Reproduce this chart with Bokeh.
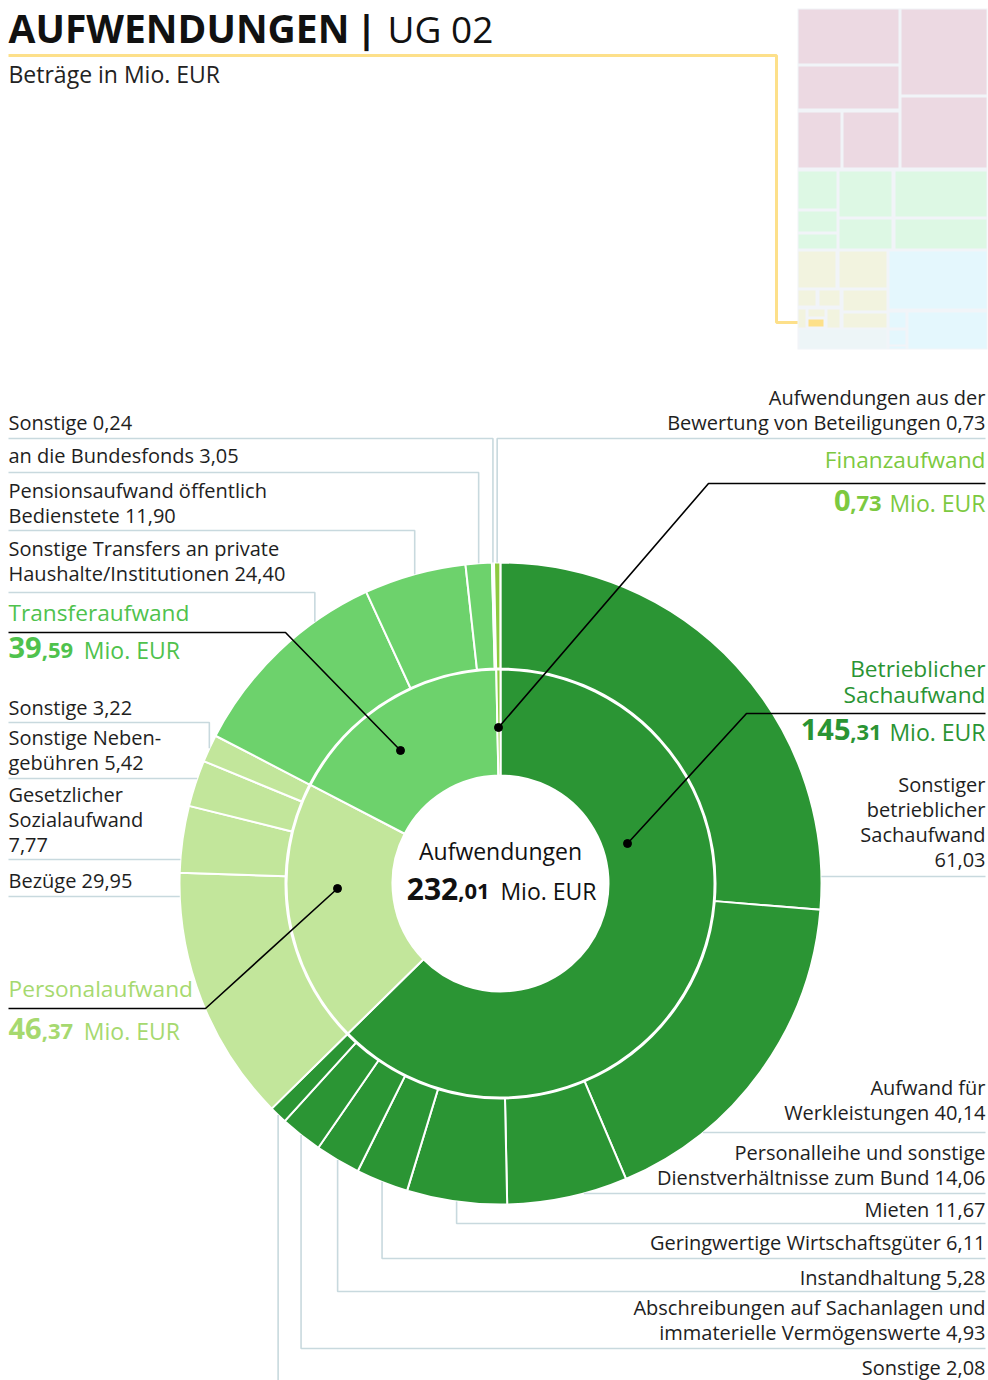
import math
from bokeh.plotting import figure
from bokeh.models import Range1d, ColumnDataSource
from bokeh.embed import file_html
from bokeh.resources import INLINE
from bokeh.core.properties import value

# ------------------------------------------------------------------ data
title_bold = "AUFWENDUNGEN"
title_rest = "UG 02"
subtitle = "Beträge in Mio. EUR"
center_label = "Aufwendungen"
total_value = 232.01
unit = "Mio. EUR"

categories = ["Betrieblicher|Sachaufwand", "Personalaufwand", "Transferaufwand", "Finanzaufwand"]
category_values = [145.31, 46.37, 39.59, 0.73]
category_colors = ["#2b9534", "#c2e69b", "#6dd26c", "#8dca3f"]
category_text_colors = ["#2a9433", "#a6d96f", "#4fc24d", "#7cc940"]

sub_parent = [0, 0, 0, 0, 0, 0, 0, 0, 1, 1, 1, 1, 2, 2, 2, 2, 3]
sub_names = [
    "Sonstiger|betrieblicher|Sachaufwand|",
    "Aufwand für|Werkleistungen",
    "Personalleihe und sonstige|Dienstverhältnisse zum Bund",
    "Mieten",
    "Geringwertige Wirtschaftsgüter",
    "Instandhaltung",
    "Abschreibungen auf Sachanlagen und|immaterielle Vermögenswerte",
    "Sonstige",
    "Bezüge",
    "Gesetzlicher|Sozialaufwand|",
    "Sonstige Neben-|gebühren",
    "Sonstige",
    "Sonstige Transfers an private|Haushalte/Institutionen",
    "Pensionsaufwand öffentlich|Bedienstete",
    "an die Bundesfonds",
    "Sonstige",
    "Aufwendungen aus der|Bewertung von Beteiligungen",
]
sub_values = [61.03, 40.14, 14.06, 11.67, 6.11, 5.28, 4.93, 2.08,
              29.95, 7.77, 5.42, 3.22,
              24.40, 11.90, 3.05, 0.24,
              0.73]

# mini treemap (overview of all UGs), image coords: left, right, top, bottom
tm_left = [798, 901, 798, 798, 843, 901,
           798, 839, 895, 798, 798, 839, 895,
           798, 839, 798, 819, 843, 798, 808, 827, 843,
           889, 889, 908, 889, 889, 799]
tm_right = [898, 986, 898, 840, 898, 986,
            836, 891, 986, 836, 836, 891, 986,
            835, 886, 815, 839, 886, 805, 824, 839, 886,
            986, 905, 986, 905, 905, 886]
tm_top = [9, 9, 66, 112, 112, 97,
          171, 171, 171, 211, 234, 219, 219,
          251, 251, 290, 290, 290, 309, 309, 309, 313,
          251, 312, 312, 330, 346, 329]
tm_bottom = [63, 94, 108, 167, 167, 167,
             208, 216, 216, 231, 248, 248, 248,
             287, 287, 305, 305, 310, 327, 316, 327, 327,
             308, 327, 348, 344, 348, 348]
tm_group = ["a"] * 6 + ["b"] * 7 + ["c"] * 9 + ["d"] * 5 + ["e"]
tm_group_colors = {"a": "#ecd9e2", "b": "#ddf8e4", "c": "#f2f3df", "d": "#e4f7fd", "e": "#edf5f7"}
tm_highlight = [808, 823, 319, 326]

# ------------------------------------------------------------------ layout
W, H = 988, 1380
CX, CY = 500, 883
R_HOLE, R_MID, R_OUT = 108, 214, 321
FONT = "Open Sans"
BASE_SHIFT = 0.4   # glyph text is drawn centred on y -> lift by this share of the size


def Y(y_img):
    return H - y_img


def fmt(v):
    return f"{v:.2f}".replace(".", ",")


p = figure(width=W, height=H, x_range=Range1d(0, W), y_range=Range1d(0, H),
           output_backend="svg", toolbar_location=None, min_border=0)
p.axis.visible = False
p.grid.visible = False
p.outline_line_color = None
p.background_fill_color = "white"
p.border_fill_color = "white"


def add_text(xs, ys, texts, size, color, align="left", bold=False):
    src = ColumnDataSource(dict(x=list(xs), y=[Y(v - BASE_SHIFT * size) for v in ys], text=list(texts)))
    p.text(x="x", y="y", text="text", source=src, text_font=value(FONT),
           text_font_size=value(f"{size}px"), text_color=color, text_align=align,
           text_baseline="alphabetic", text_font_style="bold" if bold else "normal")


# ---- title
add_text([8], [43], [title_bold], 39, "#111111", bold=True)
add_text([366], [43], ["|"], 38, "#111111", align="center", bold=True)
add_text([387], [43], [title_rest], 37, "#111111")
add_text([8], [83], [subtitle], 23, "#222222")
p.line(x=[8, 776, 776, 808], y=[Y(55), Y(55), Y(322), Y(322)], line_color="#fde08a", line_width=3)

# ---- mini treemap
p.quad(left=[797], right=[987], top=[Y(8)], bottom=[Y(349)], fill_color="#f1f4f8", line_color=None)
tm_src = ColumnDataSource(dict(left=tm_left, right=tm_right, top=[Y(v) for v in tm_top],
                               bottom=[Y(v) for v in tm_bottom],
                               color=[tm_group_colors[g] for g in tm_group]))
p.quad(left="left", right="right", top="top", bottom="bottom", source=tm_src,
       fill_color="color", line_color=None)
p.quad(left=[tm_highlight[0]], right=[tm_highlight[1]], top=[Y(tm_highlight[2])],
       bottom=[Y(tm_highlight[3])], fill_color="#fde08a", line_color=None)

# ---- angles (clockwise from top, degrees)
tot = sum(category_values)
cat_a1, cat_a2 = [], []
acc = 0.0
for v in category_values:
    cat_a1.append(acc / tot * 360)
    acc += v
    cat_a2.append(acc / tot * 360)

sub_a1, sub_a2 = [], []
acc = 0.0
for v in sub_values:
    sub_a1.append(acc / tot * 360)
    acc += v
    sub_a2.append(acc / tot * 360)


def to_rad(cw_deg):
    return math.radians(90 - cw_deg)


inner = ColumnDataSource(dict(x=[CX] * 4, y=[Y(CY)] * 4,
                              start=[to_rad(b) for b in cat_a2], end=[to_rad(a) for a in cat_a1],
                              color=category_colors))
p.annular_wedge(x="x", y="y", inner_radius=R_HOLE, outer_radius=R_MID, start_angle="start",
                end_angle="end", source=inner, fill_color="color", line_color="white", line_width=2)
outer = ColumnDataSource(dict(x=[CX] * len(sub_values), y=[Y(CY)] * len(sub_values),
                              start=[to_rad(b) for b in sub_a2], end=[to_rad(a) for a in sub_a1],
                              color=[category_colors[i] for i in sub_parent]))
p.annular_wedge(x="x", y="y", inner_radius=R_MID + 1, outer_radius=R_OUT, start_angle="start",
                end_angle="end", source=outer, fill_color="color", line_color="white", line_width=2)

# ---- sub labels & leader lines
sub_side = ["R"] * 8 + ["L"] * 8 + ["R"]
sub_underline = [876, 1132, 1193, 1223, 1258, 1291, 1348, 1386,
                 896, 859, 778, 722, 592, 530, 472, 438,
                 438]
sub_baseline = [867, 1120, 1185, 1217, 1250, 1285, 1340, 1375,
                888, 852, 770, 715, 581, 523, 463, 430,
                430]
sub_anchor = [None] * 17
sub_anchor[12] = 0.72
LINE_SP = 25
SUB_SIZE = 20

lx, ly = [], []
for i, v in enumerate(sub_values):
    side = sub_side[i]
    uy = sub_underline[i]
    xend = 8 if side == "L" else 985
    a1, a2 = sub_a1[i], sub_a2[i]
    done = False
    dy = uy - CY
    if sub_anchor[i] is None and abs(dy) < R_OUT:
        dx = math.sqrt(R_OUT ** 2 - dy ** 2)
        xe = CX + dx if side == "R" else CX - dx
        th = math.degrees(math.atan2(xe - CX, -(uy - CY))) % 360
        if a1 <= th <= a2:
            lx.append([xe, xend])
            ly.append([Y(uy), Y(uy)])
            done = True
    if not done:
        f = 0.5 if sub_anchor[i] is None else sub_anchor[i]
        th = math.radians(a1 + f * (a2 - a1))
        xa = CX + R_OUT * math.sin(th)
        ya = CY - R_OUT * math.cos(th)
        lx.append([xa, xa, xend])
        ly.append([Y(ya), Y(uy), Y(uy)])
    lines = sub_names[i].split("|")
    if lines[-1] == "":
        lines[-1] = fmt(v)
    else:
        lines[-1] = lines[-1] + " " + fmt(v)
    n = len(lines)
    ys = [sub_baseline[i] - (n - 1 - k) * LINE_SP for k in range(n)]
    add_text([xend] * n, ys, lines, SUB_SIZE, "#1e1e1e", align="left" if side == "L" else "right")

p.multi_line(xs=lx, ys=ly, line_color="#c8d9de", line_width=1.6)

# ---- category labels and black leaders
cat_leader = [
    [(985, 713), (746, 713), (627, 843)],
    [(8, 1008), (205, 1008), (337, 888)],
    [(8, 632), (285, 632), (400, 750)],
    [(985, 483), (708, 483), (498, 727)],
]
cat_side = ["R", "L", "L", "R"]
cat_name_baseline = [703, 997, 621, 468]
cat_value_baseline = [741, 1040, 659, 512]

p.multi_line(xs=[[pt[0] for pt in L] for L in cat_leader],
             ys=[[Y(pt[1]) for pt in L] for L in cat_leader], line_color="black", line_width=1.6)
p.scatter(x=[L[-1][0] for L in cat_leader], y=[Y(L[-1][1]) for L in cat_leader],
          size=8, color="black")

BIG, DEC, UNIT_S = 29, 22, 23
DIGIT_W, COMMA_W, UNIT_W = 0.572, 0.274, 4.08
GAP = 11

for i, v in enumerate(category_values):
    side = cat_side[i]
    col = category_text_colors[i]
    lines = categories[i].split("|")
    n = len(lines)
    ys = [cat_name_baseline[i] - (n - 1 - k) * 26 for k in range(n)]
    xa = 8 if side == "L" else 985
    add_text([xa] * n, ys, lines, 22.7, col, align="left" if side == "L" else "right")
    s = fmt(v)
    ip, dp = s.split(",")
    dp = "," + dp
    w_int = len(ip) * DIGIT_W * BIG
    w_dec = (COMMA_W + 2 * DIGIT_W) * DEC
    w_unit = UNIT_W * UNIT_S
    vb = cat_value_baseline[i]
    if side == "L":
        x_int = 8
        add_text([x_int], [vb], [ip], BIG, col, bold=True)
        add_text([x_int + w_int], [vb], [dp], DEC, col, bold=True)
        add_text([x_int + w_int + w_dec + GAP], [vb], [unit], UNIT_S, col)
    else:
        x_dec_r = 985 - w_unit - GAP + 1
        add_text([985], [vb], [unit], UNIT_S, col, align="right")
        add_text([x_dec_r], [vb], [dp], DEC, col, align="right", bold=True)
        add_text([x_dec_r - w_dec], [vb], [ip], BIG, col, align="right", bold=True)

# ---- center
add_text([CX], [860], [center_label], 23, "#111111", align="center")
s = fmt(total_value)
ip, dp = s.split(",")
dp = "," + dp
CB = 30
w_int = len(ip) * DIGIT_W * CB
w_dec = (COMMA_W + 2 * DIGIT_W) * DEC
w_all = w_int + w_dec + GAP + UNIT_W * UNIT_S
x_int = CX - w_all / 2
add_text([x_int], [900], [ip], CB, "#111111", bold=True)
add_text([x_int + w_int], [900], [dp], DEC, "#111111", bold=True)
add_text([x_int + w_int + w_dec + GAP], [900], [unit], UNIT_S, "#111111")

open("out.html", "w").write(file_html(p, INLINE))
